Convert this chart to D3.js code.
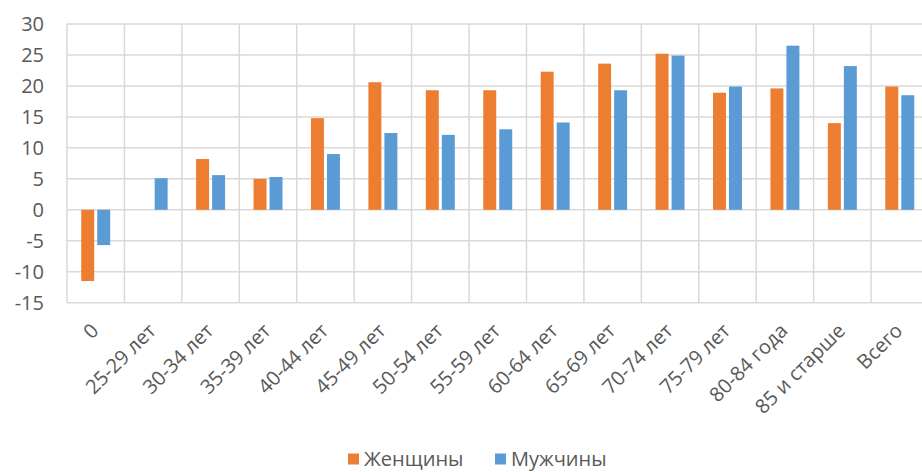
<!DOCTYPE html>
<html>
<head>
<meta charset="utf-8">
<script src="https://cdnjs.cloudflare.com/ajax/libs/d3/7.8.5/d3.min.js"></script>
<style>
  body { margin: 0; background: #fff; }
  svg text { font-family: "Open Sans", "DejaVu Sans", sans-serif; fill: #595959; }
</style>
</head>
<body>
<svg id="chart" width="922" height="472"></svg>
<script>
// age groups and values (per cent)
var categories = ["0", "25-29 лет", "30-34 лет", "35-39 лет", "40-44 лет", "45-49 лет", "50-54 лет",
  "55-59 лет", "60-64 лет", "65-69 лет", "70-74 лет", "75-79 лет", "80-84 года", "85 и старше", "Всего"];
var women = [-11.5, 0, 8.2, 5.0, 14.8, 20.6, 19.3, 19.3, 22.3, 23.6, 25.2, 18.9, 19.6, 14.0, 19.9];
var men = [-5.7, 5.1, 5.6, 5.3, 9.0, 12.4, 12.1, 13.0, 14.1, 19.3, 24.9, 19.9, 26.5, 23.2, 18.5];
var seriesNames = ["Женщины", "Мужчины"];
var seriesColors = ["#ed7d31", "#5b9bd5"];
var yTicks = [-15, -10, -5, 0, 5, 10, 15, 20, 25, 30];

var svg = d3.select("#chart");
// plot area (right edge runs past the window, like the original)
var plotLeft = 67, plotRight = 928.5, plotTop = 24, plotBottom = 302.7;

var x = d3.scaleBand().domain(categories).range([plotLeft, plotRight]).paddingInner(0).paddingOuter(0);
var x1 = d3.scaleBand().domain(seriesNames).range([0, x.bandwidth()])
  .paddingInner(0.19).paddingOuter(0.89);
var y = d3.scaleLinear().domain([-15, 30]).range([plotBottom, plotTop]);

// gridlines
var grid = svg.append("g").attr("stroke", "#d9d9d9").attr("stroke-width", 1.5);
grid.selectAll("line.h").data(yTicks).enter().append("line")
  .attr("class", "h")
  .attr("x1", plotLeft).attr("x2", plotRight)
  .attr("y1", function(d){ return y(d); })
  .attr("y2", function(d){ return y(d); });
grid.selectAll("line.v").data(categories).enter().append("line")
  .attr("class", "v")
  .attr("x1", function(d){ return x(d); })
  .attr("x2", function(d){ return x(d); })
  .attr("y1", plotTop).attr("y2", plotBottom);

// bars
var rows = categories.map(function(c, i){ return {cat: c, vals: [women[i], men[i]]}; });
var groups = svg.selectAll("g.cat").data(rows).enter().append("g")
  .attr("class", "cat")
  .attr("transform", function(d){ return "translate(" + x(d.cat) + ",0)"; });
groups.selectAll("rect").data(function(d){
    return d.vals.map(function(v, j){ return {name: seriesNames[j], v: v, color: seriesColors[j]}; });
  }).enter().append("rect")
  .attr("x", function(d){ return x1(d.name); })
  .attr("width", x1.bandwidth())
  .attr("y", function(d){ return y(Math.max(0, d.v)); })
  .attr("height", function(d){ return Math.abs(y(d.v) - y(0)); })
  .attr("fill", function(d){ return d.color; });

// y axis labels
svg.append("g").selectAll("text").data(yTicks).enter().append("text")
  .attr("x", 44)
  .attr("y", function(d){ return y(d); })
  .attr("dy", "0.35em")
  .attr("text-anchor", "end")
  .style("font-size", "20px")
  .text(function(d){ return d; });

// x axis labels, rotated
svg.append("g").selectAll("text").data(categories).enter().append("text")
  .attr("transform", function(d){
    return "translate(" + (x(d) + x.bandwidth() / 2 + 4) + ",332) rotate(-45)";
  })
  .attr("text-anchor", "end")
  .style("font-size", "20px")
  .text(function(d){ return d; });

// legend
var legend = svg.append("g").attr("transform", "translate(348,459)");
var items = legend.selectAll("g").data(seriesNames).enter().append("g")
  .attr("transform", function(d, i){ return "translate(" + (i * 147) + ",0)"; });
items.append("rect")
  .attr("x", 0).attr("y", -5.5).attr("width", 11).attr("height", 11)
  .attr("fill", function(d, i){ return seriesColors[i]; });
items.append("text")
  .attr("x", 16).attr("dy", "0.35em")
  .style("font-size", "20px")
  .text(function(d){ return d; });
</script>
</body>
</html>
